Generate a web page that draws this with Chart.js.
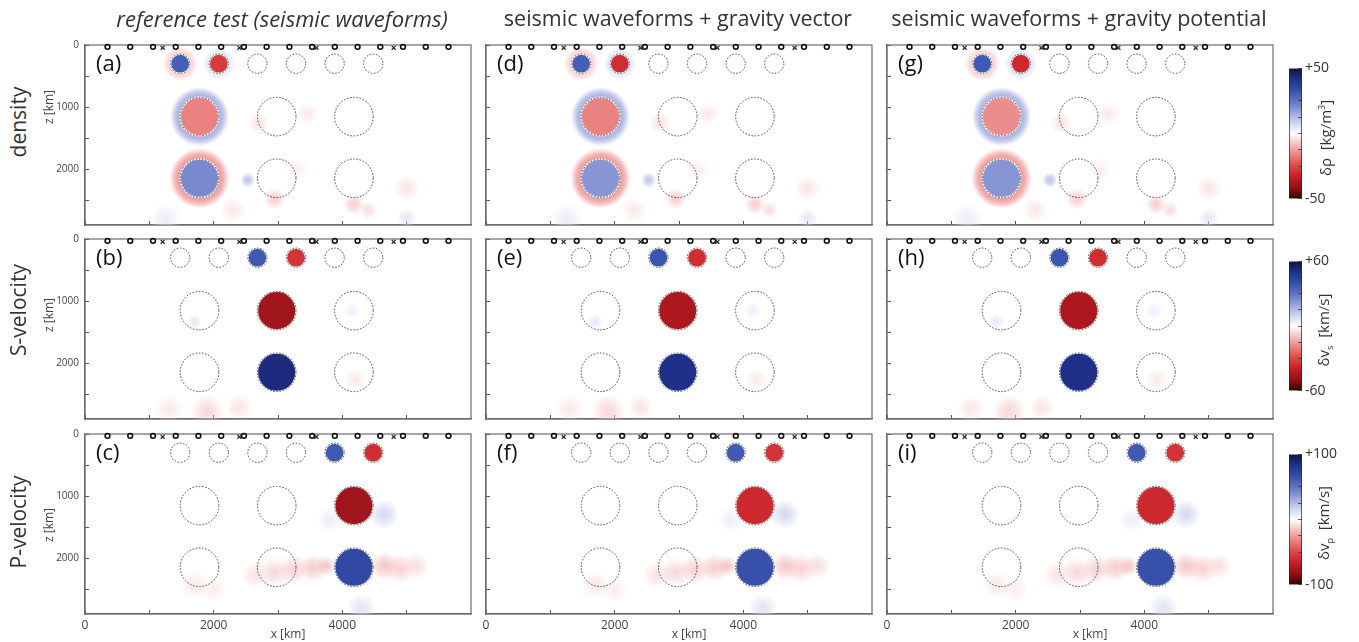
<!DOCTYPE html>
<html><head><meta charset="utf-8">
<script src="https://cdn.jsdelivr.net/npm/chart.js@4.4.1/dist/chart.umd.min.js"></script>
<style>
body{margin:0;background:#fff;width:1359px;height:642px;overflow:hidden;position:relative;font-family:"Open Sans",sans-serif;}
canvas{position:absolute;}
.t{position:absolute;white-space:nowrap;color:#222;line-height:1;}
.rot{transform:translate(-50%,-50%) rotate(-90deg);}
.ctr{transform:translate(-50%,-50%);}
</style></head><body>
<script>
// ---------------- data ----------------
const columnTitles = ['reference test (seismic waveforms)', 'seismic waveforms + gravity vector', 'seismic waveforms + gravity potential'];
const rowTitles = ['density', 'S-velocity', 'P-velocity'];
const panelLetters = [['(a)','(d)','(g)'],['(b)','(e)','(h)'],['(c)','(f)','(i)']];
const xTicks = [0,1000,2000,3000,4000,5000];
const xTickLabels = ['0','','2000','','4000',''];
const zTicks = [0,500,1000,1500,2000,2500];
const zTickLabels = ['0','','1000','','2000',''];
const stationO = [350,703,1057,1410,1763,2117,2470,2823,3177,3530,3883,4237,4590,4943,5297,5650];
const stationX = [1207,2400,3597,4798];
const stationOZ = 30, stationXZ = 45;
// anomaly circles: 6 small (z=300) + 3 upper large + 3 lower large
const circleX = [1480,2080,2680,3280,3880,4480,1780,2980,4180,1780,2980,4180];
const circleZ = [300,300,300,300,300,300,1150,1150,1150,2140,2140,2140];
const circleR = [150,150,150,150,150,150,300,300,300,300,300,300];
// recovered anomaly inside each circle (fraction of colour-bar limit)
const rec_a = [0.6,-0.55,0,0,0,0,-0.33,0,0,0.42,0,0];
const rec_d = [0.6,-0.6,0,0,0,0,-0.33,0,0,0.38,0,0];
const rec_g = [0.62,-0.62,0,0,0,0,-0.3,0,0,0.38,0,0];
const rec_b = [0,0,0.62,-0.57,0,0,0,-0.78,0,0,0.87,0];
const rec_e = [0,0,0.64,-0.6,0,0,0,-0.74,0,0,0.84,0];
const rec_h = [0,0,0.64,-0.6,0,0,0,-0.74,0,0,0.84,0];
const rec_c = [0,0,0,0,0.62,-0.6,0,0,-0.78,0,0,0.7];
const rec_f = [0,0,0,0,0.62,-0.58,0,0,-0.62,0,0,0.66];
const rec_i = [0,0,0,0,0.62,-0.58,0,0,-0.62,0,0,0.66];
// halos (side lobes) around circles in the density row
const haloIdx = [0,1,6,9];
const haloV = [-0.12,0.1,0.3,-0.28];
const haloR = [270,250,460,470];
// faint smearing artefacts per row
const blobDensityX = [2530,2950,4180,2700,3450,5000,4400,1250,5000,2300,3300];
const blobDensityZ = [2170,2470,2560,1250,1100,2300,2650,2800,2780,2650,2000];
const blobDensityR = [120,170,160,170,180,200,140,240,160,200,180];
const blobDensityV = [0.3,-0.18,-0.18,-0.1,-0.08,-0.1,-0.12,0.1,0.12,-0.08,-0.06];
const blobSX = [1900,1300,2400,1700,4150,4200];
const blobSZ = [2760,2720,2700,1330,1150,2250];
const blobSR = [260,220,200,120,140,170];
const blobSV = [-0.14,-0.08,-0.1,0.12,0.08,-0.08];
const blobPX = [2650,2950,3250,3550,3750,4650,4900,5150,4650,3800,1700,4300,2000];
const blobPZ = [2260,2220,2170,2150,2120,2120,2160,2120,1290,1380,2420,2800,2500];
const blobPR = [220,230,230,220,160,220,230,200,230,200,220,230,200];
const blobPV = [-0.1,-0.14,-0.16,-0.18,-0.2,-0.2,-0.16,-0.12,0.2,0.08,-0.08,0.14,-0.07];
// colour bars
const cbTicksRho = [-50,-37.5,-25,-12.5,0,12.5,25,37.5,50];
const cbTicksVs = [-60,-45,-30,-15,0,15,30,45,60];
const cbTicksVp = [-100,-75,-50,-25,0,25,50,75,100];
const cbTitles = ['δρ&nbsp;&nbsp;[kg/m<sup style="font-size:9px">3</sup>]','δv<sub style="font-size:9px">s</sub>&nbsp;&nbsp;[km/s]','δv<sub style="font-size:9px">p</sub>&nbsp;&nbsp;[km/s]'];

// ---------------- styles / layout ----------------
const FAM = '"Open Sans", sans-serif';
const CM = [[-1,[45,8,8]],[-0.85,[140,15,22]],[-0.65,[200,32,38]],[-0.45,[226,85,85]],[-0.2,[242,178,178]],[0,[255,255,255]],[0.2,[196,202,236]],[0.45,[112,128,202]],[0.65,[56,82,172]],[0.85,[30,46,136]],[1,[16,20,56]]];
function cmap(t){
  t=Math.max(-1,Math.min(1,t));
  for(let k=1;k<CM.length;k++){ if(t<=CM[k][0]){ const [t0,c0]=CM[k-1],[t1,c1]=CM[k]; const f=(t-t0)/(t1-t0); return c0.map((v,j)=>Math.round(v+(c1[j]-v)*f)); } }
  return CM[CM.length-1][1];
}
const rgba=(c,a)=>`rgba(${c[0]},${c[1]},${c[2]},${a})`;
const W=386,H=186,PADL=40,PADT=10,PADR=6,PADB=30;
const colLeft=[85,486,887], rowTop=[39,233,428];
const recs=[[rec_a,rec_d,rec_g],[rec_b,rec_e,rec_h],[rec_c,rec_f,rec_i]];
const blobs=[[blobDensityX,blobDensityZ,blobDensityR,blobDensityV],[blobSX,blobSZ,blobSR,blobSV],[blobPX,blobPZ,blobPR,blobPV]];

function kmPx(chart,r){const s=chart.scales.x; return Math.abs(s.getPixelForValue(r)-s.getPixelForValue(0));}
function center(chart,raw){return [chart.scales.x.getPixelForValue(raw.x), chart.scales.y.getPixelForValue(raw.y)];}

const framePlugin={id:'frame',beforeDatasetsDraw(chart){const a=chart.chartArea,c=chart.ctx;c.save();c.strokeStyle='#6b6b6b';c.lineWidth=1.2;c.strokeRect(a.left,a.top,a.right-a.left,a.bottom-a.top);c.restore();}};
const dashPlugin={id:'dash',beforeDatasetDraw(chart,args){const ds=chart.data.datasets[args.index];chart.ctx.setLineDash(ds.dashed||[]);},afterDatasetDraw(chart){chart.ctx.setLineDash([]);}};

function addText(html,x,y,cls,style){const d=document.createElement('div');d.className='t '+cls;d.innerHTML=html;d.style.left=x+'px';d.style.top=y+'px';Object.assign(d.style,style||{});document.body.appendChild(d);return d;}

function makePanel(row,col){
  const cv=document.createElement('canvas');
  const cw=W+PADL+PADR, ch=H+PADT+PADB;
  cv.width=cw; cv.height=ch; cv.style.width=cw+'px'; cv.style.height=ch+'px';
  cv.style.left=(colLeft[col]-PADL)+'px'; cv.style.top=(rowTop[row]-PADT)+'px';
  document.body.appendChild(cv);
  const rec=recs[row][col];
  const [bx,bz,br,bv]=blobs[row];
  const blobData=bx.map((x,i)=>({x,y:bz[i],r:br[i],v:bv[i]}));
  const haloData= row===0 ? haloIdx.map((k,i)=>({x:circleX[k],y:circleZ[k],r0:circleR[k],r:haloR[i],v:haloV[i]})) : [];
  const fillData=[]; rec.forEach((v,i)=>{ if(v!==0) fillData.push({x:circleX[i],y:circleZ[i],r:circleR[i],v}); });
  const outlineData=circleX.map((x,i)=>({x,y:circleZ[i],r:circleR[i]}));
  const radiusFn=c=>c.raw?kmPx(c.chart,c.raw.r):0;
  const datasets=[
    {data:blobData,order:10,clip:0,pointRadius:radiusFn,borderWidth:0,pointBorderWidth:0,
     pointBackgroundColor:c=>{ if(!c.raw||!c.chart.chartArea) return 'rgba(0,0,0,0)'; const [px,py]=center(c.chart,c.raw); const g=c.chart.ctx.createRadialGradient(px,py,0,px,py,kmPx(c.chart,c.raw.r)); const col=cmap(c.raw.v); g.addColorStop(0,rgba(col,0.75)); g.addColorStop(0.5,rgba(col,0.45)); g.addColorStop(1,rgba(col,0)); return g; }},
    {data:haloData,order:9,clip:0,pointRadius:radiusFn,pointBorderWidth:0,
     pointBackgroundColor:c=>{ if(!c.raw||!c.chart.chartArea) return 'rgba(0,0,0,0)'; const [px,py]=center(c.chart,c.raw); const g=c.chart.ctx.createRadialGradient(px,py,kmPx(c.chart,c.raw.r0),px,py,kmPx(c.chart,c.raw.r)); const col=cmap(c.raw.v); g.addColorStop(0,rgba(col,1)); g.addColorStop(0.45,rgba(col,0.7)); g.addColorStop(1,rgba(col,0)); return g; }},
    {data:fillData,order:8,clip:0,pointRadius:radiusFn,pointBorderWidth:1.5,pointBorderColor:'#ffffff',
     pointBackgroundColor:c=>c.raw?rgba(cmap(c.raw.v),1):'rgba(0,0,0,0)'},
    {data:outlineData,order:7,clip:0,dashed:[1.6,1.6],pointRadius:radiusFn,pointBorderWidth:0.9,pointBorderColor:'#3a3a3a',pointBackgroundColor:'rgba(0,0,0,0)'},
    {data:stationX.map(x=>({x,y:stationXZ})),order:2,clip:false,pointStyle:'crossRot',pointRadius:2.8,pointBorderWidth:1.2,pointBorderColor:'#222'},
    {data:stationO.map(x=>({x,y:stationOZ})),order:1,clip:false,pointStyle:'circle',pointRadius:2.4,pointBorderWidth:1.6,pointBorderColor:'#111',pointBackgroundColor:'rgba(255,255,255,0)'}
  ];
  new Chart(cv,{type:'scatter',data:{datasets},options:{
    responsive:false,animation:false,events:[],devicePixelRatio:1,
    layout:{padding:{left:0,top:PADT,right:PADR,bottom:0}},
    plugins:{legend:{display:false},tooltip:{enabled:false}},
    scales:{
      x:{type:'linear',min:0,max:6000,position:'bottom',
         afterFit:s=>{s.height=PADB;},afterBuildTicks:s=>{s.ticks=xTicks.map(v=>({value:v}));},
         ticks:{autoSkip:false,maxRotation:0,padding:8,color:'#444',font:{family:FAM,size:12},callback:(v,i)=>row===2?xTickLabels[i]:''},
         grid:{drawOnChartArea:false,tickLength:-4,color:'#555',lineWidth:1},
         border:{color:'#6b6b6b',width:1.2}},
      y:{type:'linear',min:0,max:2890,reverse:true,position:'left',
         afterFit:s=>{s.width=PADL;},afterBuildTicks:s=>{s.ticks=zTicks.map(v=>({value:v}));},
         ticks:{autoSkip:false,padding:10,color:'#444',font:{family:FAM,size:10},callback:(v,i)=>col===0?zTickLabels[i]:''},
         grid:{drawOnChartArea:false,tickLength:-4,color:'#555',lineWidth:1},
         border:{color:'#6b6b6b',width:1.2}}
    }},plugins:[framePlugin,dashPlugin]});
}

const cbTop=[61,254,447], cbBot=[206,398,592], cbLeft=1289, cbW=13;
const cbTickSets=[cbTicksRho,cbTicksVs,cbTicksVp];
function makeColorbar(row){
  const ticks=cbTickSets[row];
  const cv=document.createElement('canvas');
  const cw=cbW+44, ch=(cbBot[row]-cbTop[row])+16;
  cv.width=cw; cv.height=ch; cv.style.width=cw+'px'; cv.style.height=ch+'px';
  cv.style.left=cbLeft+'px'; cv.style.top=(cbTop[row]-8)+'px';
  document.body.appendChild(cv);
  const lo=ticks[0], hi=ticks[ticks.length-1];
  new Chart(cv,{type:'bar',data:{labels:['cb'],datasets:[{data:[[lo,hi]],barPercentage:1,categoryPercentage:1,borderWidth:1,borderColor:'#222',borderSkipped:false,
     backgroundColor:c=>{const a=c.chart.chartArea; if(!a) return '#fff'; const g=c.chart.ctx.createLinearGradient(0,a.top,0,a.bottom); CM.forEach(([t,col])=>g.addColorStop((1-t)/2,rgba(col,1))); return g;}}]},
   options:{responsive:false,animation:false,events:[],devicePixelRatio:1,
    layout:{padding:{left:0,top:8,right:0,bottom:8}},
    plugins:{legend:{display:false},tooltip:{enabled:false}},
    scales:{
      x:{display:false},
      y:{position:'right',min:lo,max:hi,afterFit:s=>{s.width=44;},afterBuildTicks:s=>{s.ticks=ticks.map(v=>({value:v}));},
         ticks:{autoSkip:false,padding:7,color:'#333',font:{family:FAM,size:14},callback:(v,i)=>i===0?String(lo):(i===ticks.length-1?'+'+hi:'')},
         grid:{drawOnChartArea:false,tickLength:-4,color:'#333',lineWidth:0.8,z:1},
         border:{display:false}}
    }}});
}

for(let r=0;r<3;r++) for(let c=0;c<3;c++) makePanel(r,c);
for(let r=0;r<3;r++) makeColorbar(r);

// texts
const titleX=[282,678,1079];
const titleSize=['22px','21.5px','21.5px'];
columnTitles.forEach((t,i)=>addText(t,titleX[i],18,'ctr',{fontSize:titleSize[i],fontStyle:i===0?'italic':'normal',color:'#333'}));
const rowLabelY=[122,310,522];
rowTitles.forEach((t,i)=>addText(t,18,rowLabelY[i],'rot',{fontSize:'21px',color:'#333'}));
const zLabelY=[107,315,525];
zLabelY.forEach(y=>addText('z [km]',49,y,'rot',{fontSize:'12px',color:'#444'}));
colLeft.forEach(L=>addText('x [km]',L+203,634,'ctr',{fontSize:'12px',color:'#444'}));
for(let r=0;r<3;r++) for(let c=0;c<3;c++) addText(panelLetters[r][c],colLeft[c]+11,rowTop[r]+23,'',{fontSize:'22px',color:'#111',transform:'translateY(-50%)'});
const cbTitleY=[138,330,523];
cbTitles.forEach((t,i)=>addText(t,1325,cbTitleY[i],'rot',{fontSize:'15px',color:'#333'}));
</script>
</body></html>
